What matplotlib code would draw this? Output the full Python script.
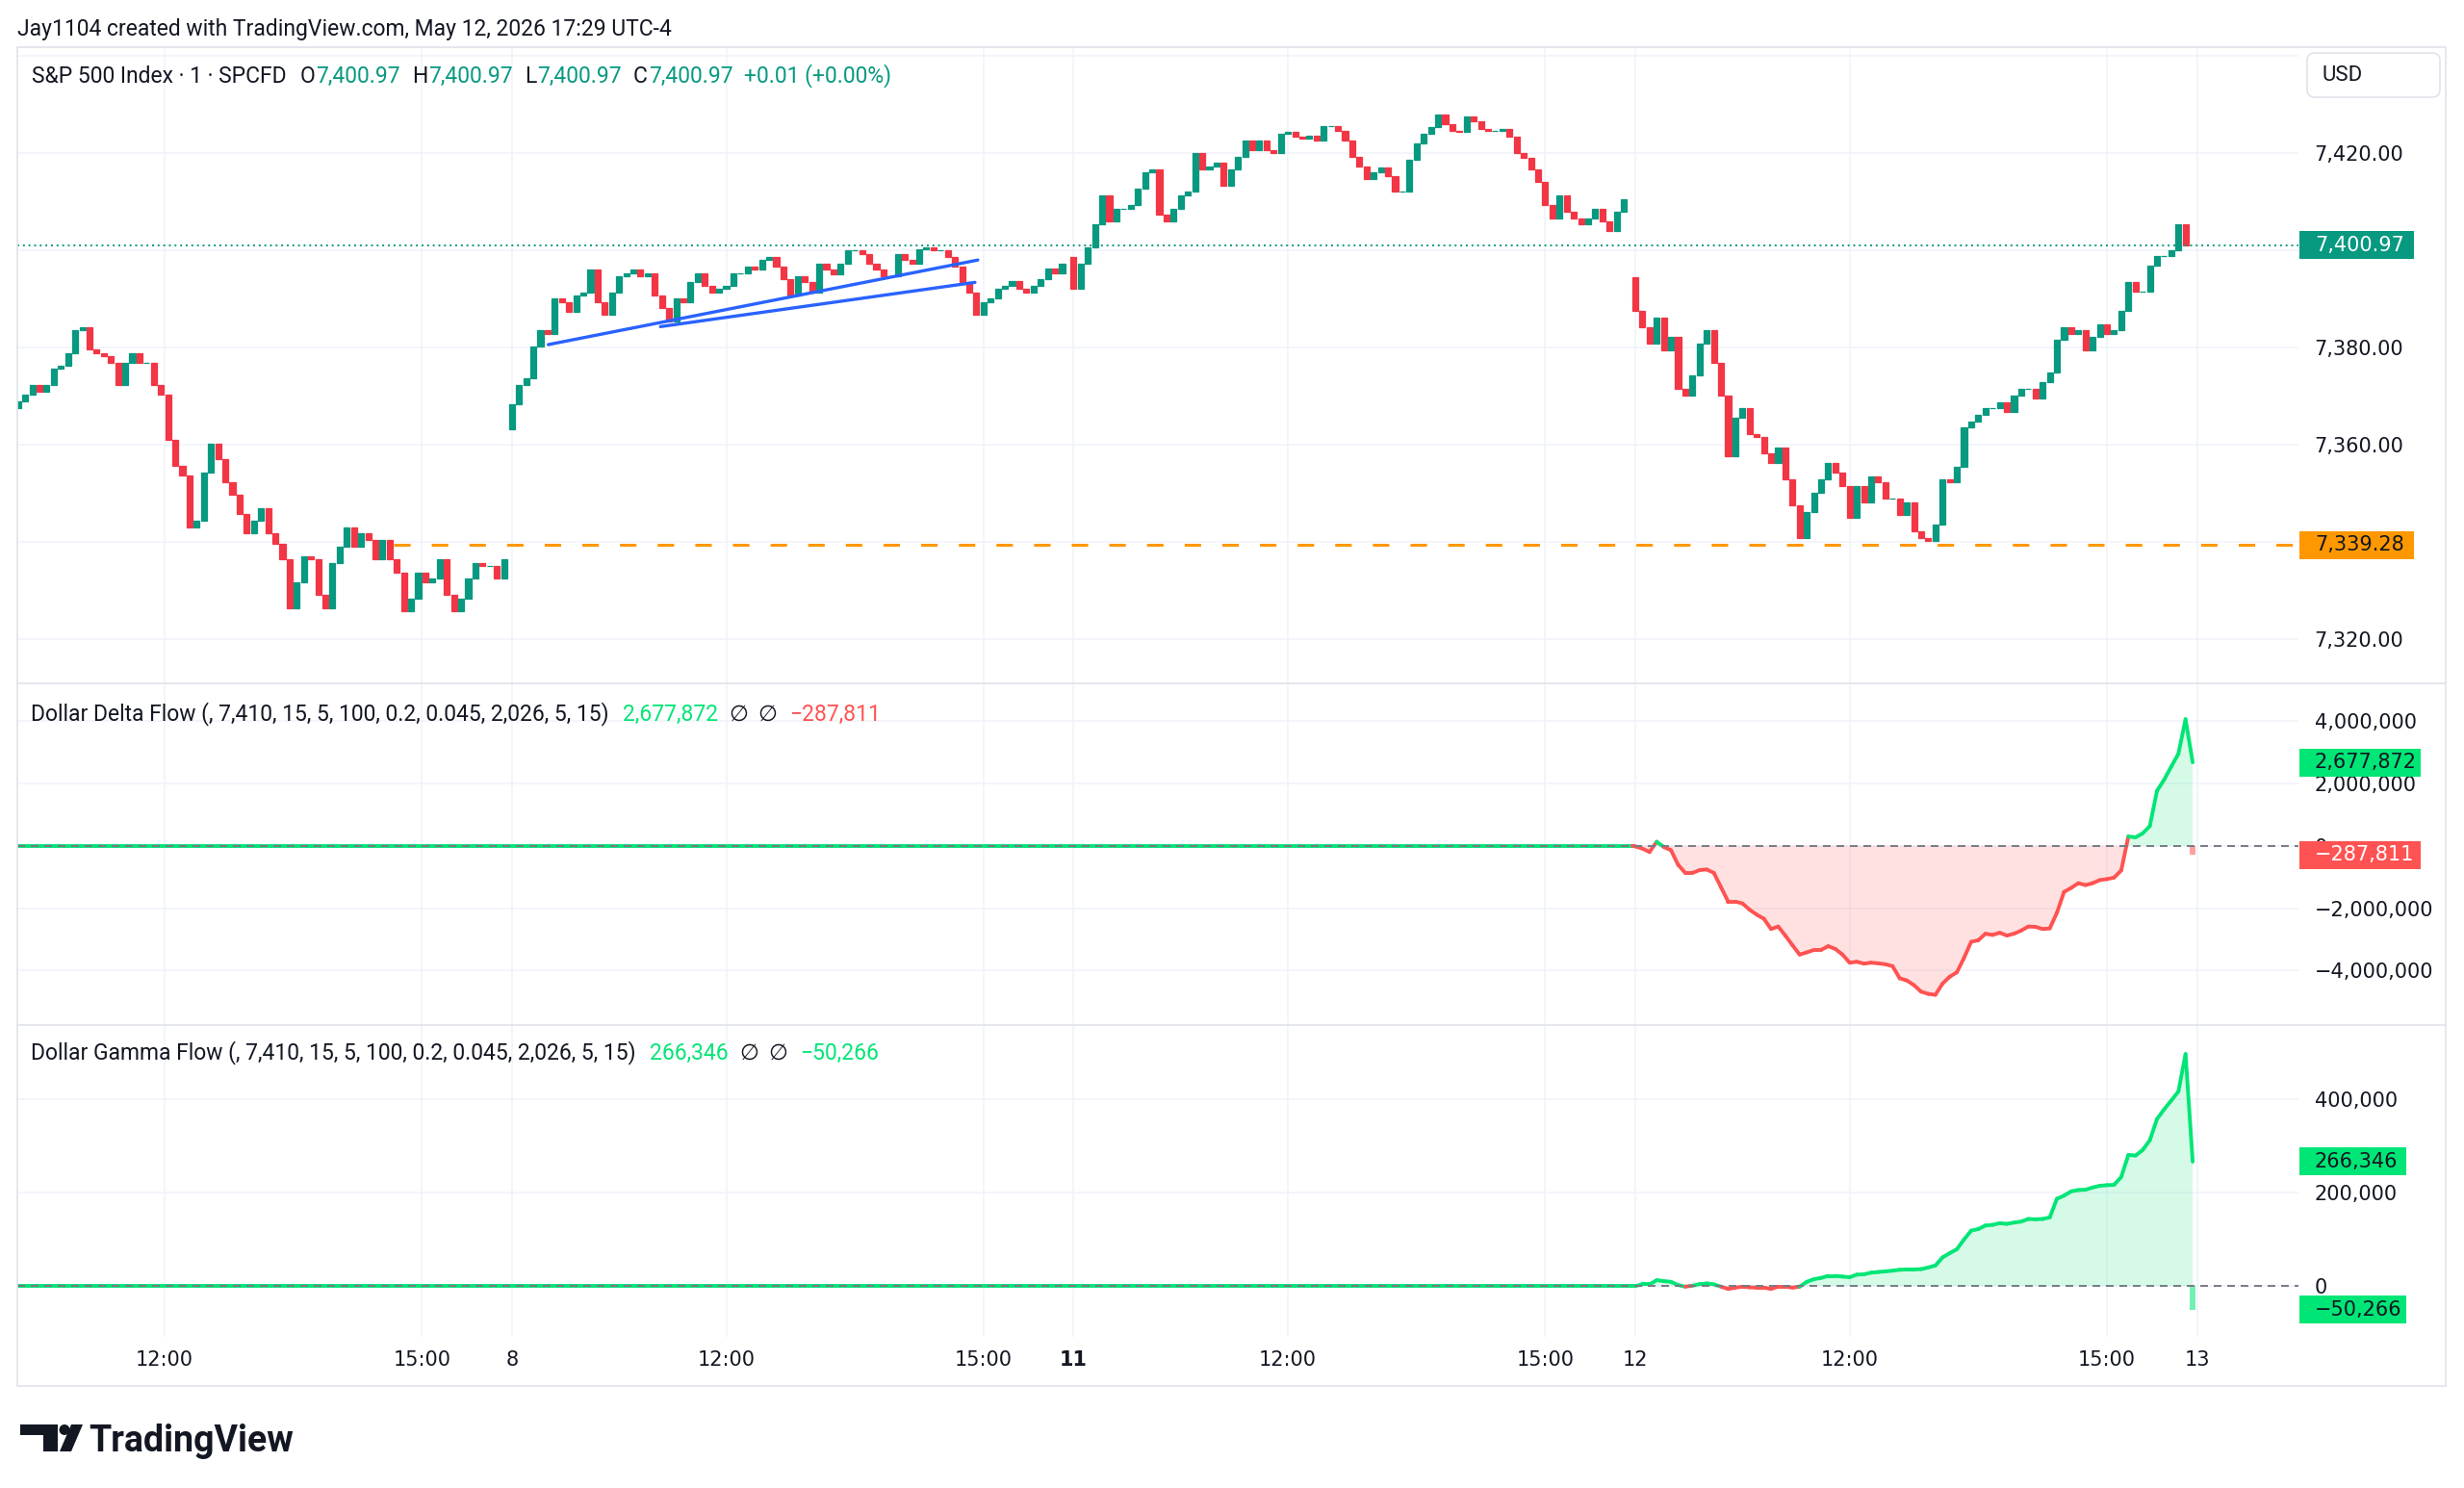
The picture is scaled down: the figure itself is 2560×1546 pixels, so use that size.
import numpy as np
import matplotlib
matplotlib.use("Agg")
import matplotlib.pyplot as plt
from matplotlib.patches import FancyBboxPatch, Rectangle, Polygon, Circle
from matplotlib.collections import LineCollection
from matplotlib.transforms import blended_transform_factory
from matplotlib.ticker import FixedLocator, FuncFormatter

# ---- values, one close every 5 minutes ----
SESSION_MIN = 393      # one session on the time axis, 9:30 open
STEP = 5

may7_first_t = 47.5
may7_close = [
    7368.8, 7370.2, 7372.2, 7370.8, 7372.2, 7375.5, 7376.1, 7378.8, 7383.5, 7384.1,
    7379.5, 7378.8, 7378.1, 7376.8, 7372.2, 7376.8, 7378.8, 7376.8, 7376.8, 7372.2,
    7370.2, 7360.9, 7355.6, 7353.6, 7342.9, 7344.3, 7354.2, 7360.2, 7356.9, 7352.2,
    7349.6, 7345.6, 7341.6, 7344.3, 7346.9, 7341.6, 7339.6, 7336.3, 7326.3, 7331.6,
    7336.9, 7336.3, 7329.0, 7326.3, 7335.6, 7338.9, 7342.9, 7338.9, 7341.6, 7340.3,
    7336.3, 7340.3, 7336.3, 7333.6, 7325.6, 7328.3, 7333.6, 7331.6, 7332.3, 7336.3,
    7329.0, 7325.6, 7328.3, 7332.3, 7335.6, 7335.0, 7335.0, 7332.3, 7336.3]
may8_close = [
    7368.2, 7372.2, 7373.5, 7380.1, 7383.4, 7382.7, 7390.0, 7389.3, 7387.3, 7390.6,
    7391.3, 7395.9, 7389.3, 7386.7, 7391.3, 7394.6, 7395.2, 7395.9, 7394.6, 7395.2,
    7390.6, 7388.0, 7385.3, 7390.0, 7389.3, 7393.3, 7395.2, 7392.6, 7391.3, 7391.9,
    7392.6, 7395.2, 7395.2, 7396.6, 7395.9, 7397.9, 7398.5, 7396.6, 7393.9, 7390.6,
    7394.6, 7393.3, 7391.3, 7397.2, 7395.9, 7394.9, 7397.2, 7399.9, 7399.9, 7399.2,
    7397.2, 7395.9, 7394.6, 7394.6, 7399.2, 7397.9, 7397.2, 7400.2, 7400.5, 7399.9,
    7399.9, 7398.5, 7396.6, 7393.3, 7391.3, 7386.7, 7389.3, 7390.0, 7391.9, 7392.6,
    7393.6, 7391.9, 7391.3, 7392.6, 7393.9, 7396.2, 7395.2, 7397.2]
may11_close = [
    7391.9, 7397.2, 7400.5, 7405.2, 7411.2, 7405.9, 7408.5, 7408.5, 7409.2, 7412.5,
    7415.9, 7416.5, 7407.2, 7405.9, 7408.5, 7411.2, 7411.9, 7419.9, 7416.5, 7417.2,
    7417.9, 7413.2, 7416.5, 7419.2, 7422.5, 7420.5, 7422.5, 7420.5, 7419.9, 7423.9,
    7424.2, 7423.2, 7422.9, 7423.5, 7422.5, 7425.5, 7425.5, 7424.5, 7422.5, 7419.2,
    7417.2, 7414.5, 7415.9, 7416.9, 7415.2, 7411.9, 7411.9, 7418.5, 7421.9, 7423.9,
    7425.2, 7427.9, 7425.9, 7424.5, 7424.2, 7427.5, 7426.5, 7424.9, 7424.5, 7424.5,
    7424.9, 7423.2, 7419.9, 7418.9, 7416.5, 7413.9, 7409.2, 7406.5, 7411.2, 7407.9,
    7406.5, 7405.2, 7406.5, 7408.5, 7405.9, 7403.9, 7407.9, 7410.5]
may12_close = [
    7387.4, 7384.0, 7380.7, 7386.0, 7379.4, 7382.0, 7371.4, 7370.0, 7374.1, 7380.7,
    7383.4, 7376.7, 7370.1, 7357.5, 7365.4, 7367.4, 7362.1, 7361.4, 7358.1, 7356.1,
    7359.4, 7352.7, 7347.4, 7340.8, 7346.1, 7350.1, 7352.7, 7356.1, 7354.1, 7351.4,
    7344.8, 7351.4, 7348.1, 7353.4, 7352.1, 7348.8, 7348.8, 7345.4, 7348.1, 7342.1,
    7340.8, 7340.1, 7343.4, 7352.8, 7352.1, 7355.4, 7363.4, 7364.7, 7366.1, 7367.4,
    7367.4, 7368.7, 7366.7, 7370.1, 7371.4, 7371.4, 7369.4, 7372.7, 7374.7, 7381.4,
    7384.0, 7382.7, 7383.4, 7379.4, 7382.0, 7384.7, 7382.7, 7383.4, 7387.4, 7393.3,
    7391.4, 7391.4, 7396.7, 7398.7, 7398.7, 7400.0, 7405.3, 7400.97]
session_open = [7367.5, 7363.0, 7398.5, 7394.3]

last_price = 7400.97
support_level = 7339.28
support_from_t = 310

# trend lines drawn on May 8 (time, price)
trend_a = [(418.5, 7380.5), (719.0, 7397.9)]
trend_b = [(497.0, 7384.2), (717.0, 7393.3)]

# flow indicators: flat zero until the May 12 open, then these readings
flat_until = 3 * SESSION_MIN - 2
delta_m = [
    -0.02, -0.09, -0.20, 0.13, -0.04, -0.14, -0.61, -0.87, -0.87, -0.78,
    -0.76, -0.87, -1.33, -1.79, -1.79, -1.85, -2.05, -2.21, -2.34, -2.67,
    -2.59, -2.88, -3.19, -3.49, -3.42, -3.34, -3.34, -3.22, -3.31, -3.49,
    -3.75, -3.72, -3.78, -3.75, -3.77, -3.80, -3.86, -4.25, -4.32, -4.47,
    -4.68, -4.75, -4.78, -4.42, -4.20, -4.06, -3.60, -3.08, -3.03, -2.82,
    -2.86, -2.79, -2.88, -2.82, -2.72, -2.59, -2.60, -2.67, -2.65, -2.15,
    -1.48, -1.35, -1.20, -1.26, -1.20, -1.10, -1.07, -1.02, -0.79, 0.30,
    0.27, 0.40, 0.63, 1.76, 2.12, 2.54, 2.95, 4.06, 2.677872]
gamma_k = [
    0, 3.5, 3.5, 12.5, 10.5, 9, 2, -1.4, 0.7, 4,
    5.6, 3.5, -1.4, -6.3, -3.5, -1.4, -2.8, -3.5, -3.5, -6.3,
    -1.4, -1.4, -3.5, -1.4, 9, 14.6, 17.4, 21.6, 21.6, 20.2,
    18.8, 24.4, 25.1, 28.6, 30, 31.4, 32.8, 34.8, 35.5, 35.5,
    36.2, 39.7, 43.9, 61.3, 70.4, 78.7, 99.7, 118.5, 122, 129.6,
    131, 134.5, 133.1, 135.9, 138, 143.6, 142.9, 143.6, 147, 186.8,
    193.7, 202.8, 205.6, 206.3, 211.1, 214.6, 216, 216.7, 233.4, 280.8,
    279.4, 291.3, 312.2, 357.5, 378.4, 397.2, 416.7, 496.9, 266.346]
delta_last, delta_hist = 2677872, -287811
gamma_last, gamma_hist = 266346, -50266

time_ticks = [150, 330, 393, 543, 723, 786, 936, 1116, 1179, 1329, 1509, 1572]
time_labels = ["12:00", "15:00", "8", "12:00", "15:00", "11",
               "12:00", "15:00", "12", "12:00", "15:00", "13"]
price_ticks = [7320, 7340, 7360, 7380, 7400, 7420, 7440]
price_hidden = [7340, 7400, 7440]
delta_ticks = [-4e6, -2e6, 0, 2e6, 4e6]
gamma_ticks = [0, 2e5, 4e5]

UP, DOWN = "#089981", "#F23645"
GREEN, RED = "#00E676", "#FF5252"
TEXT, GRID, BORDER = "#131722", "#F0F3FA", "#E0E3EB"
ORANGE, BLUE = "#FF9800", "#2962FF"

W, H, DPI = 2560, 1546, 100
plt.rcParams["font.family"] = ["Roboto", "DejaVu Sans"]

fig = plt.figure(figsize=(W / DPI, H / DPI), dpi=DPI)
fig.patch.set_facecolor("white")


def rect(x0, y0, x1, y1):
    return [x0 / W, 1 - y1 / H, (x1 - x0) / W, (y1 - y0) / H]


ax_p = fig.add_axes(rect(18, 49, 2388, 710))
ax_d = fig.add_axes(rect(18, 710, 2388, 1065), sharex=ax_p)
ax_g = fig.add_axes(rect(18, 1065, 2388, 1389), sharex=ax_p)


def minus(s):
    return s.replace("-", "\u2212")


for ax in (ax_p, ax_d, ax_g):
    for sp in ax.spines.values():
        sp.set_visible(False)
    ax.yaxis.tick_right()
    ax.tick_params(axis="y", length=0, pad=12, labelsize=15, labelcolor=TEXT,
                   labelfontfamily="DejaVu Sans")
    ax.tick_params(axis="x", length=0, pad=10, labelsize=15, labelcolor=TEXT,
                   labelfontfamily="DejaVu Sans")
    ax.xaxis.set_major_locator(FixedLocator(time_ticks))
    ax.grid(True, color=GRID, lw=1.1, zorder=0)
    ax.set_axisbelow(True)

ax_p.tick_params(labelbottom=False)
ax_d.tick_params(labelbottom=False)
ax_g.set_xticks(time_ticks)
ax_g.set_xticklabels(time_labels)
ax_g.get_xticklabels()[5].set_fontweight("bold")
ax_p.set_xlim(47, 1643)

# ---- price pane ----
ax_p.set_ylim(7310.8, 7441.7)
ax_p.yaxis.set_major_locator(FixedLocator(price_ticks))
ax_p.yaxis.set_major_formatter(FuncFormatter(
    lambda v, p: "" if round(v) in price_hidden else f"{v:,.2f}"))


def draw_candles(ax, t0, first_open, closes):
    closes = np.asarray(closes, dtype=float)
    opens = np.concatenate([[first_open], closes[:-1]])
    x = t0 + STEP * np.arange(len(closes))
    cols = np.where(closes >= opens, UP, DOWN)
    ax.bar(x, closes - opens, bottom=opens, width=4.1, color=cols,
           edgecolor=cols, linewidth=0.9, zorder=3)


draw_candles(ax_p, may7_first_t, session_open[0], may7_close)
draw_candles(ax_p, 1 * SESSION_MIN, session_open[1], may8_close)
draw_candles(ax_p, 2 * SESSION_MIN, session_open[2], may11_close)
draw_candles(ax_p, 3 * SESSION_MIN, session_open[3], may12_close)

for line in (trend_a, trend_b):
    xs, ys = zip(*line)
    ax_p.plot(xs, ys, color=BLUE, lw=2.4, solid_capstyle="round", zorder=4)

ax_p.axhline(last_price, color=UP, lw=1.4, ls=(0, (1, 2)), zorder=4)
ax_p.hlines(support_level, support_from_t, 1643, color=ORANGE, lw=2.2,
            linestyles=[(0, (5.6, 7.2))], zorder=4)

# ---- flow panes ----
d12 = 3 * SESSION_MIN
flow_t = np.concatenate([[47, flat_until], d12 + STEP * np.arange(len(delta_m))])
delta_v = np.concatenate([[0, 0], np.asarray(delta_m) * 1e6])
gamma_v = np.concatenate([[0, 0], np.asarray(gamma_k) * 1e3])


def flow_pane(ax, t, v, hist, hist_color, ylim, ticks):
    ax.set_ylim(*ylim)
    ax.yaxis.set_major_locator(FixedLocator(ticks))
    ax.yaxis.set_major_formatter(FuncFormatter(lambda y, p: minus(f"{y:,.0f}")))
    ax.fill_between(t, v, 0, where=v >= 0, interpolate=True, color=GREEN,
                    alpha=0.16, lw=0, zorder=1)
    ax.fill_between(t, v, 0, where=v <= 0, interpolate=True, color=RED,
                    alpha=0.17, lw=0, zorder=1)
    pts = np.column_stack([t, v])
    segs = np.stack([pts[:-1], pts[1:]], axis=1)
    mid = (v[:-1] + v[1:]) / 2
    cols = [GREEN if m >= 0 else RED for m in mid]
    ax.add_collection(LineCollection(segs, colors=cols, linewidths=2.8,
                                     capstyle="round", joinstyle="round", zorder=3))
    ax.bar([t[-1]], [hist], width=4, color=hist_color, alpha=0.55, lw=0, zorder=2)
    ax.axhline(0, color="#787B86", lw=1.4, dashes=(4.1, 3.1), zorder=4)


flow_pane(ax_d, flow_t, delta_v, delta_hist, RED, (-5.75e6, 5.21e6), delta_ticks)
flow_pane(ax_g, flow_t, gamma_v, gamma_hist, GREEN, (-109e3, 559e3), gamma_ticks)


# ---- tags on the scale ----
def axis_tag(ax, y, text, fc, tc, width_px, height_px=29):
    pos = ax.get_position()
    ax_w, ax_h = pos.width * W, pos.height * H
    lo, hi = ax.get_ylim()
    dy = (hi - lo) * height_px / ax_h
    tr = blended_transform_factory(ax.transAxes, ax.transData)
    x0 = 1 + 1 / ax_w
    ax.add_patch(Rectangle((x0, y - dy / 2), width_px / ax_w, dy, transform=tr,
                           facecolor=fc, edgecolor="none", clip_on=False, zorder=8))
    ax.text(x0 + 16 / ax_w, y, text, transform=tr, va="center", ha="left",
            color=tc, fontsize=15, family="DejaVu Sans", clip_on=False, zorder=9)


axis_tag(ax_p, last_price, f"{last_price:,.2f}", UP, "white", 119)
axis_tag(ax_p, support_level, f"{support_level:,.2f}", ORANGE, TEXT, 119)
axis_tag(ax_d, delta_last, f"{delta_last:,}", GREEN, TEXT, 126)
axis_tag(ax_d, delta_hist, minus(f"{delta_hist:,}"), RED, "white", 126)
axis_tag(ax_g, gamma_last, f"{gamma_last:,}", GREEN, TEXT, 111)
axis_tag(ax_g, gamma_hist, minus(f"{gamma_hist:,}"), GREEN, TEXT, 111)


# ---- legends ----
def legend_row(ax, parts, x_off, y_off, fs=16.5):
    prev = None
    for txt, col, gap in parts:
        if prev is None:
            prev = ax.annotate(txt, xy=(0, 1), xycoords="axes fraction",
                               xytext=(x_off, -y_off), textcoords="offset pixels",
                               va="center", ha="left", color=col, fontsize=fs, zorder=9)
        else:
            prev = ax.annotate(txt, xy=(1, 0.5), xycoords=prev,
                               xytext=(gap, 0), textcoords="offset pixels",
                               va="center", ha="left", color=col, fontsize=fs, zorder=9)


lp = f"{last_price:,.2f}"
legend_row(ax_p, [("S&P 500 Index \u00b7 1 \u00b7 SPCFD", TEXT, 0),
                  ("O", TEXT, 14), (lp, UP, 1), ("H", TEXT, 12), (lp, UP, 1),
                  ("L", TEXT, 12), (lp, UP, 1), ("C", TEXT, 12), (lp, UP, 1),
                  ("+0.01 (+0.00%)", UP, 12)], 15, 30)
params = "(, 7,410, 15, 5, 100, 0.2, 0.045, 2,026, 5, 15)"
legend_row(ax_d, [("Dollar Delta Flow " + params, TEXT, 0),
                  (f"{delta_last:,}", GREEN, 14), ("\u2205", TEXT, 12),
                  ("\u2205", TEXT, 10), (minus(f"{delta_hist:,}"), RED, 13)], 14, 32)
legend_row(ax_g, [("Dollar Gamma Flow " + params, TEXT, 0),
                  (f"{gamma_last:,}", GREEN, 14), ("\u2205", TEXT, 12),
                  ("\u2205", TEXT, 10), (minus(f"{gamma_hist:,}"), GREEN, 13)], 14, 29)

# ---- frame, header, logo (pixel overlay) ----
ov = fig.add_axes([0, 0, 1, 1], zorder=10)
ov.set_xlim(0, W)
ov.set_ylim(H, 0)
ov.axis("off")
ov.patch.set_alpha(0)

ov.add_patch(Rectangle((18, 49), 2523, 1391, fill=False, ec=BORDER, lw=1.2))
for yy in (710, 1065):
    ov.plot([18, 2541], [yy, yy], color=BORDER, lw=1.2)
ov.add_patch(FancyBboxPatch((2397, 55), 138, 46,
                            boxstyle="round,pad=0,rounding_size=8",
                            ec=BORDER, fc="white", lw=1.2))
ov.text(2412, 79, "USD", va="center", ha="left", fontsize=16, color=TEXT)
ov.text(18, 30, "Jay1104 created with TradingView.com, May 12, 2026 17:29 UTC-4",
        va="center", ha="left", fontsize=16.5, color=TEXT)

ov.add_patch(Polygon([(21, 1480), (60, 1480), (60, 1508), (45, 1508),
                      (45, 1491), (21, 1491)], closed=True, fc=TEXT, ec="none"))
ov.add_patch(Circle((67, 1485.5), 5.5, fc=TEXT, ec="none"))
ov.add_patch(Polygon([(74, 1480), (86, 1480), (74, 1508), (62, 1508)],
                     closed=True, fc=TEXT, ec="none"))
ov.text(92, 1508, "TradingView", va="baseline", ha="left", fontsize=27,
        fontweight="bold", color=TEXT)

fig.savefig("out.png", dpi=DPI, facecolor="white")
